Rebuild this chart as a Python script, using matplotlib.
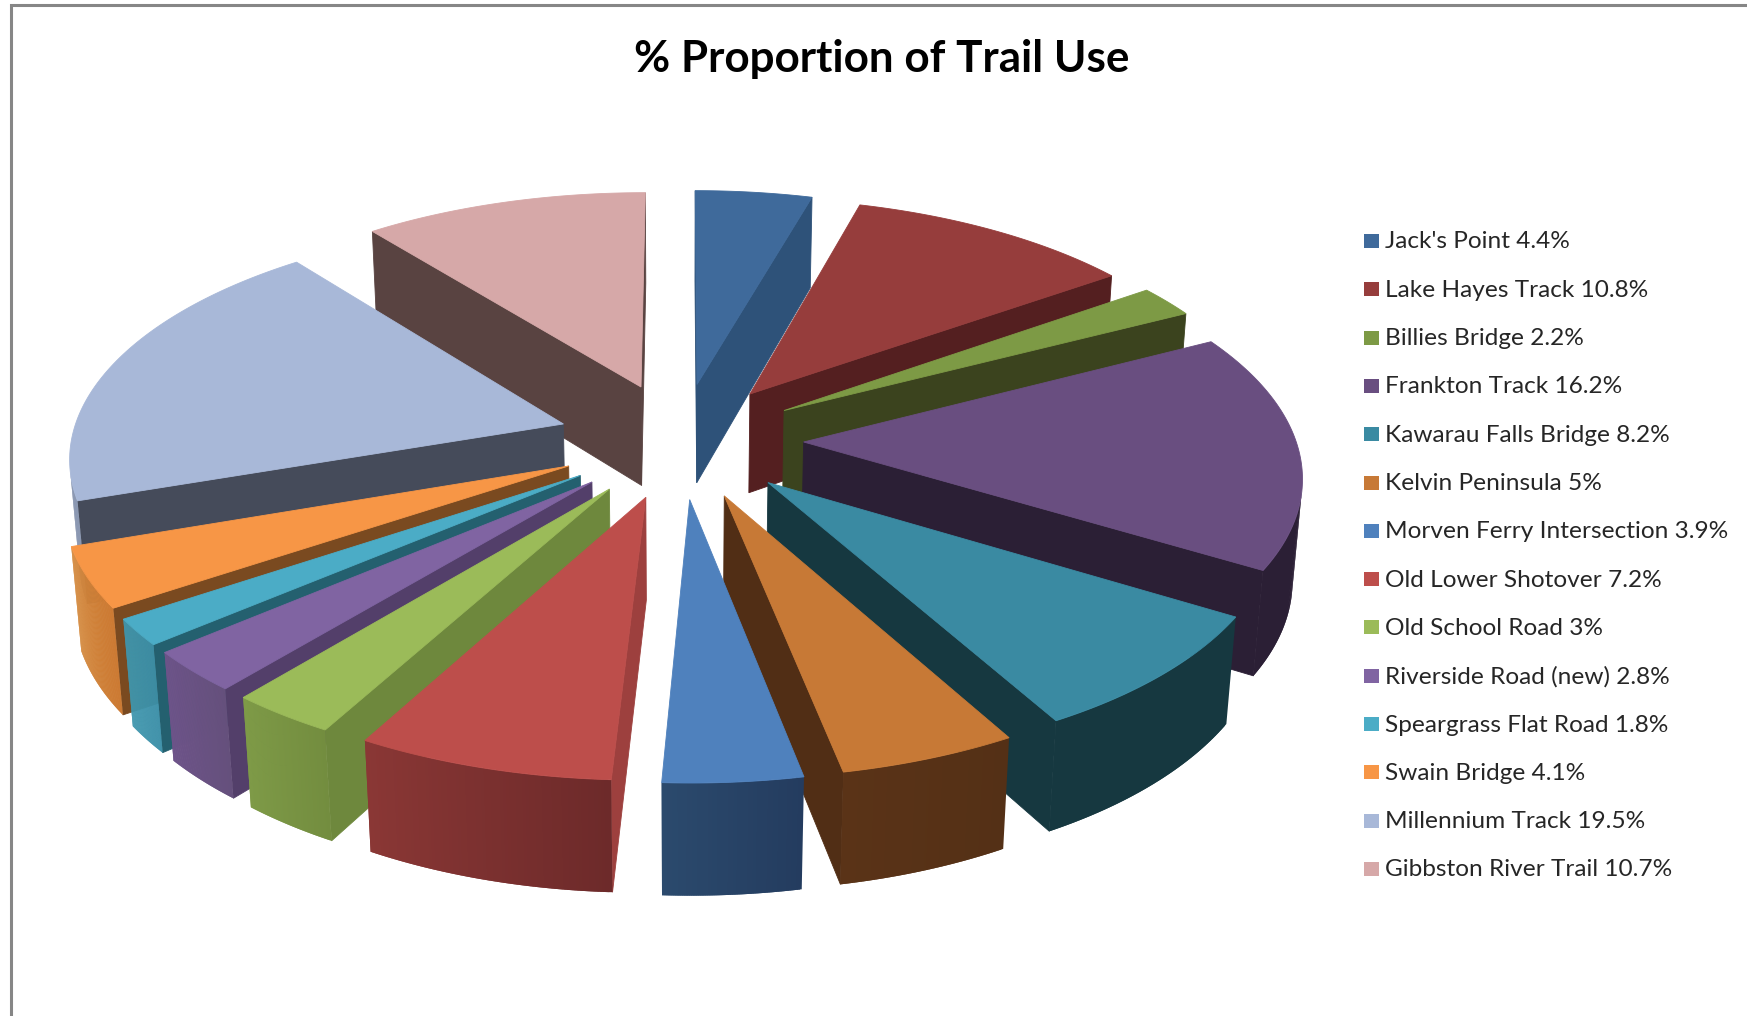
#!/usr/bin/env python3
"""Exploded 3D pie of trail use, drawn as projected polygons."""

import matplotlib
matplotlib.use("Agg")
import matplotlib.pyplot as plt
import numpy as np
from matplotlib.colors import to_rgb
from matplotlib.patches import Polygon

W, H = 1747, 1016

names = ["Jack's Point", "Lake Hayes Track", "Billies Bridge", "Frankton Track",
         "Kawarau Falls Bridge", "Kelvin Peninsula", "Morven Ferry Intersection",
         "Old Lower Shotover", "Old School Road", "Riverside Road (new)",
         "Speargrass Flat Road", "Swain Bridge", "Millennium Track",
         "Gibbston River Trail"]
values = [4.4, 10.8, 2.2, 16.2, 8.2, 5, 3.9, 7.2, 3, 2.8, 1.8, 4.1, 19.5, 10.7]

top_colors = ["#3F6A9B", "#963D3C", "#7D9A45", "#694E80", "#3A8AA2", "#C77936", "#4F81BD",
              "#BD4E4B", "#9BBB59", "#8064A2", "#4BACC6", "#F79646", "#A8B8D8", "#D6A8A8"]
side_colors = ["#2E5279", "#541F20", "#3B431E", "#2B1F35", "#163840", "#512E15", "#264460",
               "#9D403E", "#6E883D", "#533F6A", "#24606F", "#7A4A20", "#454B5A", "#594341"]
# outer wall shade at the clockwise start and end of each slice
outer_start = ["#2E5279", "#541F20", "#3B431E", "#2B1F35", "#163840", "#543016", "#243C5F",
               "#6D2A2A", "#738D3F", "#65507C", "#3B8FA8", "#CC7A33", "#8B98B2", "#594341"]
outer_end = ["#2E5279", "#541F20", "#3B431E", "#2B1F35", "#163840", "#5A3317", "#2B4A6D",
             "#8A3735", "#7E9A47", "#6D5389", "#4097AE", "#D58A3E", "#8B98B2", "#594341"]

# projection of the tilted pie
TILT = np.arcsin(0.47)
C, S = np.cos(TILT), np.sin(TILT)
D = 7.0
F = 3445
CX, CY = 680.5, 440
EXPLODE = 0.25
THICK = 0.235


def project(x, v, z):
    w = D - v * C - z * S
    return np.column_stack([CX + F * x / w, CY + F * (v * S - z * C) / w])


def faces_camera(px, pv, nx, nv):
    # normal test against the camera position
    return nx * (0 - px) + nv * (D * C - pv) > 0


def fill(ax, pts, color, z, lw=0.6):
    ax.add_patch(Polygon(pts, closed=True, fc=color, ec=color if lw else "none", lw=lw, zorder=z))


def draw_slice(ax, a0, a1, i, z):
    mid = (a0 + a1) / 2
    ox, ov = EXPLODE * np.sin(mid), -EXPLODE * np.cos(mid)
    t = np.linspace(a0, a1, 80)
    x, v = ox + np.sin(t), ov - np.cos(t)

    # radial walls
    for a, sign in ((a0, -1), (a1, 1)):
        ex, ev = ox + np.sin(a), ov - np.cos(a)
        nx, nv = sign * np.cos(a), sign * np.sin(a)
        if faces_camera(ox, ov, nx, nv):
            xs = np.array([ox, ex, ex, ox])
            vs = np.array([ov, ev, ev, ov])
            zs = np.array([0, 0, -THICK, -THICK])
            fill(ax, project(xs, vs, zs), side_colors[i], z)

    # outer wall in overlapping strips, only the part turned to the camera
    idx = np.flatnonzero(faces_camera(x, v, np.sin(t), -np.cos(t)))
    c0, c1 = np.array(to_rgb(outer_start[i])), np.array(to_rgb(outer_end[i]))
    for n, j in enumerate(idx[:-1]):
        seg = idx[n:n + 3]
        xs, vs = x[seg], v[seg]
        top = project(xs, vs, np.zeros(len(seg)))
        bot = project(xs, vs, np.full(len(seg), -THICK))
        frac = j / (len(t) - 2)
        fill(ax, np.vstack([top, bot[::-1]]), tuple(c0 + (c1 - c0) * frac), z, lw=0)

    # top face
    xs = np.r_[ox, x]
    vs = np.r_[ov, v]
    fill(ax, project(xs, vs, np.zeros(len(xs))), top_colors[i], z + 0.5)


def main():
    plt.rcParams["font.family"] = ["Lato", "DejaVu Sans"]
    fig = plt.figure(figsize=(W / 100, H / 100), dpi=100)
    ax = fig.add_axes([0, 0, 1, 1])
    ax.set_xlim(0, W)
    ax.set_ylim(H, 0)
    ax.axis("off")

    # chart frame
    ax.plot([11, 11, W], [H, 5, 5], color="#868686", lw=2.2, solid_joinstyle="miter")

    ax.text(882, 59, "% Proportion of Trail Use", ha="center", va="center",
            fontsize=31.7, fontweight="bold", color="black")

    vals = np.array(values, dtype=float)
    edges = np.r_[0, np.cumsum(vals)] / vals.sum() * 2 * np.pi
    mids = (edges[:-1] + edges[1:]) / 2
    # paint from the back of the pie to the front
    order = np.argsort(-np.cos(mids))
    for rank, i in enumerate(order):
        draw_slice(ax, edges[i], edges[i + 1], i, 2 + rank)

    # legend
    for k, (name, val) in enumerate(zip(names, values)):
        y = 241 + k * 48.3
        ax.add_patch(Polygon([(1364, y - 7), (1379, y - 7), (1379, y + 7), (1364, y + 7)],
                             closed=True, fc=top_colors[k], ec="none"))
        ax.text(1385, y + 1, f"{name} {val:g}%", ha="left", va="center",
                fontsize=17.6, color="#262626")

    fig.savefig("out.png", dpi=100, facecolor="white")


if __name__ == "__main__":
    main()
